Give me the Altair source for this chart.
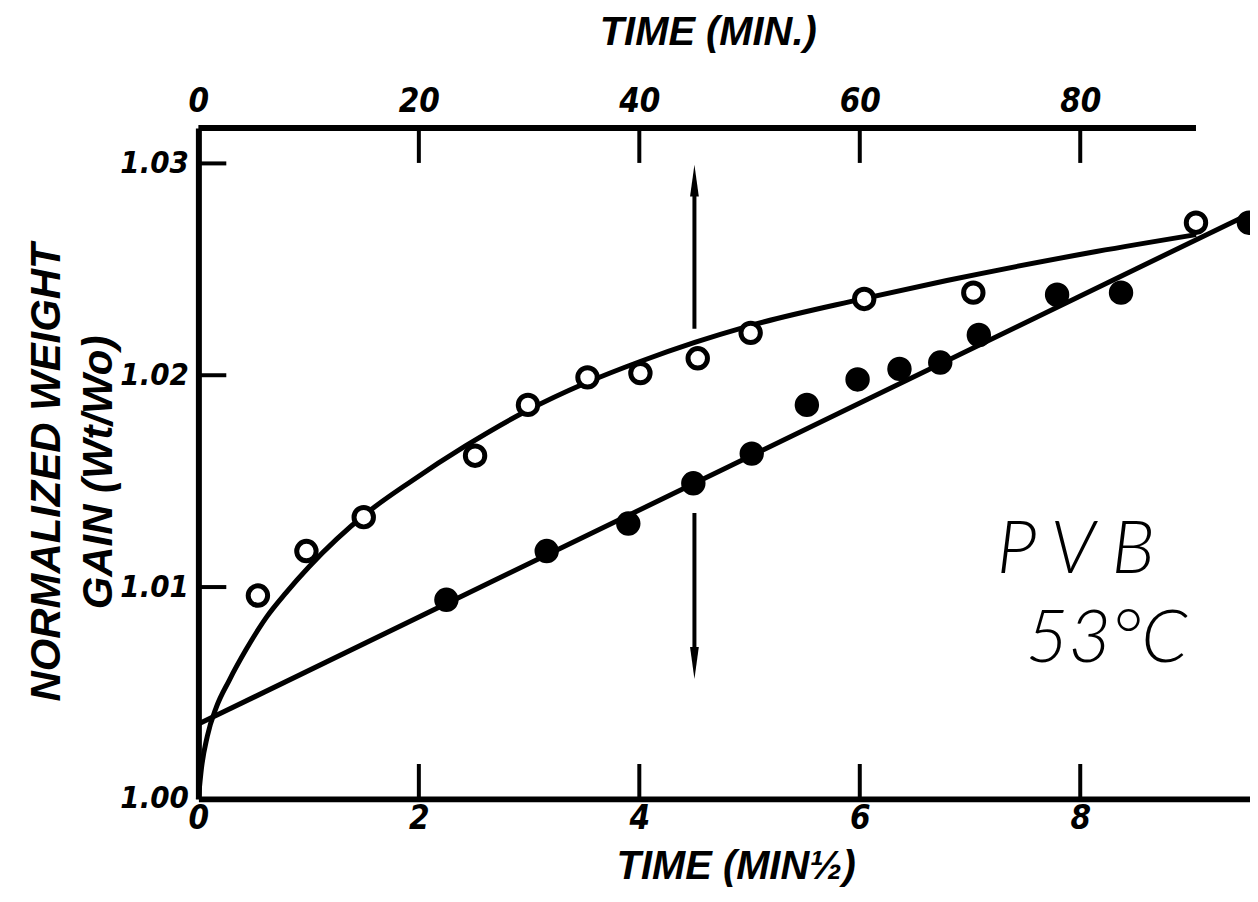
import altair as alt
import pandas as pd

# ---- data ----
# open circles (upper series), x in min^1/2
open_x = [0.54, 0.98, 1.50, 2.51, 2.99, 3.53, 4.01, 4.53, 5.01, 6.04, 7.03, 9.05]
open_y = [1.0096, 1.0117, 1.0133, 1.0162, 1.0186, 1.0199, 1.0201, 1.0208,
          1.0220, 1.0236, 1.0239, 1.0272]
# filled circles (lower series)
filled_x = [2.25, 3.16, 3.90, 4.49, 5.02, 5.52, 5.98, 6.36, 6.73, 7.08, 7.79, 8.37, 9.53]
filled_y = [1.0094, 1.0117, 1.0130, 1.0149, 1.0163, 1.0186, 1.0198, 1.0203,
            1.0206, 1.0219, 1.0238, 1.0239, 1.0272]
# hand-drawn curve through the open circles
curve_x = [0.0, 0.027, 0.081, 0.163, 0.280, 0.434, 0.615, 0.796, 1.004, 1.519,
           1.935, 2.423, 2.975, 3.508, 4.014, 4.503, 4.982, 6.004, 6.790, 8.146, 9.051]
curve_y = [1.0, 1.00141, 1.00296, 1.00433, 1.00560, 1.00706, 1.00856, 1.00974,
           1.01096, 1.01346, 1.01501, 1.01666, 1.01831, 1.01962, 1.02066, 1.02155,
           1.02231, 1.02358, 1.02447, 1.02584, 1.02664]
# straight line through the filled circles
line_x = [0.0, 9.54]
line_y = [1.00353, 1.02763]
# vertical double arrow at t^1/2 = 4.5
arrow_x = 4.5
arrow_up = [1.0222, 1.0290]
arrow_down = [1.0135, 1.0066]

# axis ticks
x_ticks = [0, 2, 4, 6, 8]
x_inner_ticks = [2, 4, 6, 8]
top_ticks = [0, 20, 40, 60, 80]
top_inner_ticks = [20, 40, 60, 80]
y_ticks = [1.00, 1.01, 1.02, 1.03]
y_inner_ticks = [1.01, 1.02, 1.03]

X_MAX = 9.54
Y_MIN, Y_MAX = 1.0, 1.03167
W, H = 1055, 673

LBL_FONT = "Liberation Sans Narrow, DejaVu Sans Condensed, Liberation Sans"
TTL_FONT = "Liberation Sans"

df_open = pd.DataFrame({"x": open_x, "y": open_y})
df_filled = pd.DataFrame({"x": filled_x, "y": filled_y})
df_curve = pd.DataFrame({"x": curve_x, "y": curve_y})
df_line = pd.DataFrame({"x": line_x, "y": line_y})
df_xt = pd.DataFrame({"x": x_inner_ticks})
df_yt = pd.DataFrame({"y": y_inner_ticks})
df_tt = pd.DataFrame({"m": top_inner_ticks})
df_arrow = pd.DataFrame({"x": [arrow_x, arrow_x],
                         "y": [arrow_up[0], arrow_down[0]],
                         "y2": [arrow_up[1], arrow_down[1]]})
df_head_up = pd.DataFrame({"x": [arrow_x], "y": [arrow_up[1]]})
df_head_dn = pd.DataFrame({"x": [arrow_x], "y": [arrow_down[1]]})

xscale = alt.Scale(domain=[0, X_MAX], nice=False, zero=False)
yscale = alt.Scale(domain=[Y_MIN, Y_MAX], nice=False, zero=False)

X = alt.X("x:Q", scale=xscale, axis=alt.Axis(
    orient="bottom", values=x_ticks, format="d", ticks=False, grid=False,
    domainWidth=6, domainColor="black", labelColor="black",
    labelFont=LBL_FONT, labelFontSize=33, labelFontStyle="italic",
    labelFontWeight="bold", labelPadding=4, labelFlush=False, labelOverlap=False,
    title="TIME  (MIN½)", titleFont=TTL_FONT, titleFontSize=40,
    titleFontStyle="italic", titleFontWeight="bold", titleColor="black",
    titleX=539, titleY=68, titleAlign="center", titleBaseline="middle"))

Y = alt.Y("y:Q", scale=yscale, axis=alt.Axis(
    orient="left", values=y_ticks, format=".2f", ticks=False, grid=False,
    domainWidth=6, domainColor="black", labelColor="black",
    labelFont=LBL_FONT, labelFontSize=31, labelFontStyle="italic",
    labelFontWeight="bold", labelPadding=10, labelFlush=False, labelOverlap=False,
    title=["NORMALIZED  WEIGHT", "GAIN  (Wt/Wo)"], titleFont=TTL_FONT,
    titleFontSize=42, titleFontStyle="italic", titleFontWeight="bold",
    titleColor="black", titleLineHeight=52, titleAngle=270,
    titleX=-152, titleY=345, titleAlign="center", titleBaseline="middle"))

curve = alt.Chart(df_curve).mark_line(color="black", strokeWidth=5,
                                      interpolate="monotone").encode(x=X, y=Y)
line = alt.Chart(df_line).mark_line(color="black", strokeWidth=5).encode(x=X, y=Y)

open_pts = alt.Chart(df_open).mark_point(
    shape="circle", filled=False, fill="white", fillOpacity=1, stroke="black",
    strokeWidth=5, size=380, opacity=1).encode(x=X, y=Y)
filled_pts = alt.Chart(df_filled).mark_point(
    shape="circle", filled=True, color="black", size=600, opacity=1).encode(x=X, y=Y)

left_ticks = alt.Chart(df_yt).mark_rule(color="black", strokeWidth=4).encode(
    y=Y, x=alt.value(0), x2=alt.value(28))
bottom_ticks = alt.Chart(df_xt).mark_rule(color="black", strokeWidth=4).encode(
    x=X, y=alt.value(H), y2=alt.value(H - 35))
top_line = alt.Chart(pd.DataFrame({"x": [0.0], "x2": [9.05]})).mark_rule(
    color="black", strokeWidth=6).encode(x=X, x2="x2:Q", y=alt.value(0))

arrows = alt.Chart(df_arrow).mark_rule(color="black", strokeWidth=4).encode(
    x=X, y=Y, y2="y2:Q")
head_up = alt.Chart(df_head_up).mark_point(
    shape="M0,-1L0.22,0.6L-0.22,0.6Z", filled=True, color="black", size=1600,
    opacity=1).encode(x=X, y=Y)
head_dn = alt.Chart(df_head_dn).mark_point(
    shape="M0,1L0.22,-0.6L-0.22,-0.6Z", filled=True, color="black", size=1600,
    opacity=1).encode(x=X, y=Y)

label_pvb = alt.Chart(pd.DataFrame({"x": [7.96], "y": [1.01068], "t": ["P V B"]})).mark_text(
    font="Lato", fontSize=74, fontStyle="italic", fontWeight=300, color="black",
    align="center", baseline="alphabetic").encode(x=X, y=Y, text="t:N")
label_temp = alt.Chart(pd.DataFrame({"x": [8.24], "y": [1.00645], "t": ["53°C"]})).mark_text(
    font="Lato", fontSize=74, fontStyle="italic", fontWeight=300, color="black",
    align="center", baseline="alphabetic").encode(x=X, y=Y, text="t:N")

main = alt.layer(curve, line, left_ticks, bottom_ticks, top_line, arrows,
                 head_up, head_dn, open_pts, filled_pts, label_pvb, label_temp)

top = alt.Chart(df_tt).mark_rule(color="black", strokeWidth=4).encode(
    x=alt.X("m:Q", scale=alt.Scale(domain=[0, X_MAX * 10], nice=False, zero=False),
            axis=alt.Axis(orient="top", values=top_ticks, format="d", ticks=False,
                          grid=False, domain=False, labelColor="black",
                          labelFont=LBL_FONT, labelFontSize=33,
                          labelFontStyle="italic", labelFontWeight="bold",
                          labelPadding=10, labelFlush=False, labelOverlap=False,
                          title="TIME  (MIN.)", titleFont=TTL_FONT,
                          titleFontSize=40, titleFontStyle="italic",
                          titleFontWeight="bold", titleColor="black",
                          titleX=511, titleY=-96, titleAlign="center",
                          titleBaseline="middle")),
    y=alt.value(0), y2=alt.value(35))

chart = alt.layer(main, top).resolve_scale(x="independent").properties(
    width=W, height=H,
    autosize=alt.AutoSizeParams(type="none"),
    padding={"left": 191, "top": 119, "right": 0, "bottom": 95},
    background="white",
).configure_view(strokeWidth=0)

chart.save("out.html", embed_options={"renderer": "svg", "actions": False})
